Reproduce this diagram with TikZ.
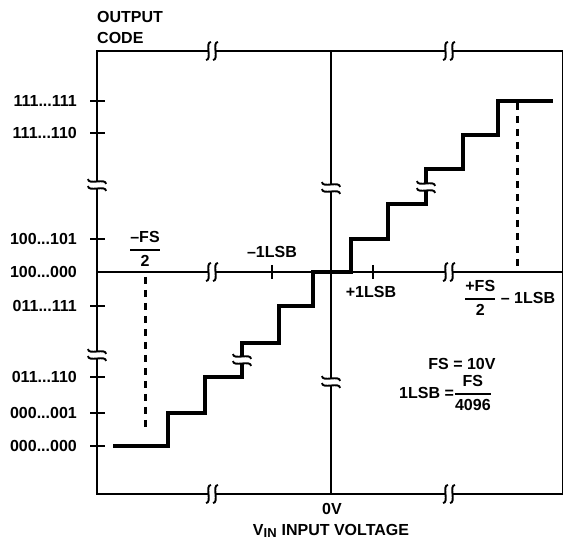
\documentclass[tikz,border=0pt]{standalone}
\usepackage{amsmath}
\usepackage{fontspec}
\setmainfont{Liberation Sans}
\usetikzlibrary{positioning, calc}

\begin{document}
\begin{tikzpicture}[
            x=1pt, y=-1pt,
            font=\fontsize{16}{18}\selectfont\bfseries,
            axis/.style={line width=2.6pt},
            stair/.style={line width=3.2pt, line join=miter},
            tick/.style={line width=2.2pt},
            dashguide/.style={line width=3pt, dash pattern=on 7pt off 6pt},
            lab/.style={inner sep=0pt},
            code/.style={lab, anchor=east},
            brk/.pic={
                \fill[white] (-3.5,-3) rectangle (3.5,3);
                \foreach \dx in {-3.5,3.5}
                    \draw[line width=1.9pt] (\dx+2.5,-9) .. controls (\dx-4,-9) and (\dx+4,9) .. (\dx-2.5,9);
            },
        ]
            \useasboundingbox (0,0) rectangle (563,540);

            % Frame and axes
            \coordinate (tl) at (97,51);
            \coordinate (br) at (563,494);
            \coordinate (xl) at (97,272);
            \coordinate (xr) at (563,272);
            \coordinate (yt) at (331,51);
            \coordinate (yb) at (331,494);
            \draw[axis] (tl) rectangle (br);
            \draw[axis] (xl) -- (xr);
            \draw[axis] (yt) -- (yb);

            % Ticks on the code axis
            \foreach \y in {101,133,239,306,377,413,446}
                \draw[tick] (90,\y) -- (105,\y);

            % Ticks on the input axis
            \foreach \x in {272,373}
                \draw[tick] (\x,265) -- (\x,279);

            % Dashed guides at the ends of the range
            \coordinate (gl-t) at (145,277);
            \coordinate (gl-b) at (145,433);
            \coordinate (gr-t) at (517,103);
            \coordinate (gr-b) at (517,272);
            \draw[dashguide] (gl-t) -- (gl-b);
            \draw[dashguide] (gr-t) -- (gr-b);

            % Draw the transfer staircase
            \draw[stair] (113,446) -- (168,446) -- (168,413) -- (205,413) -- (205,377)
                -- (242,377) -- (242,343) -- (279,343) -- (279,306) -- (313,306)
                -- (313,272) -- (351,272) -- (351,239) -- (388,239) -- (388,204)
                -- (426,204) -- (426,169) -- (463,169) -- (463,135) -- (498,135)
                -- (498,101) -- (553,101);

            % Breaks on the horizontal lines
            \foreach \x in {212,449}
                \foreach \y in {51,272,494}
                    \pic at (\x,\y) {brk};

            % Breaks on the vertical lines
            \foreach \x/\y in {97/185, 97/355, 331/188, 331/382, 242/360, 426/187}
                \pic[rotate=90] at (\x,\y) {brk};

            % Axis titles
            \node[lab, anchor=base west] (out) at (97,23) {OUTPUT};
            \node[lab, anchor=base west] (code) at (97,44) {CODE};
            \node[lab] (zero) at (332,509) {0V};
            \node[lab, anchor=base] (vin) at (331,535) {V\textsubscript{\fontsize{13}{14}\selectfont IN} INPUT VOLTAGE};

            % Output codes
            \foreach \a/\b/\y in {111/111/101, 111/110/133, 100/101/239, 100/000/272,
                                  011/111/306, 011/110/377, 000/001/413, 000/000/446}
                \node[code] (c-\a-\b) at (77,\y) {\a...\b};

            % Input voltage marks
            \node[lab] (negfs) at (145,249) {$\genfrac{}{}{1.5pt}{0}{\text{--FS}}{\text{2}}$};
            \node[lab] (m1lsb) at (272,252) {--1LSB};
            \node[lab] (p1lsb) at (371,292) {+1LSB};
            \node[lab, anchor=west] (posfs) at (464,298) {$\genfrac{}{}{1.5pt}{0}{\text{+FS}}{\text{2}}$ -- 1LSB};

            % Scale note
            \node[lab] (fs) at (462,364) {FS = 10V};
            \node[lab, anchor=west] (lsb) at (399,393) {1LSB =$\genfrac{}{}{1.5pt}{0}{\text{FS}}{\text{4096}}$};
        \end{tikzpicture}
\end{document}
